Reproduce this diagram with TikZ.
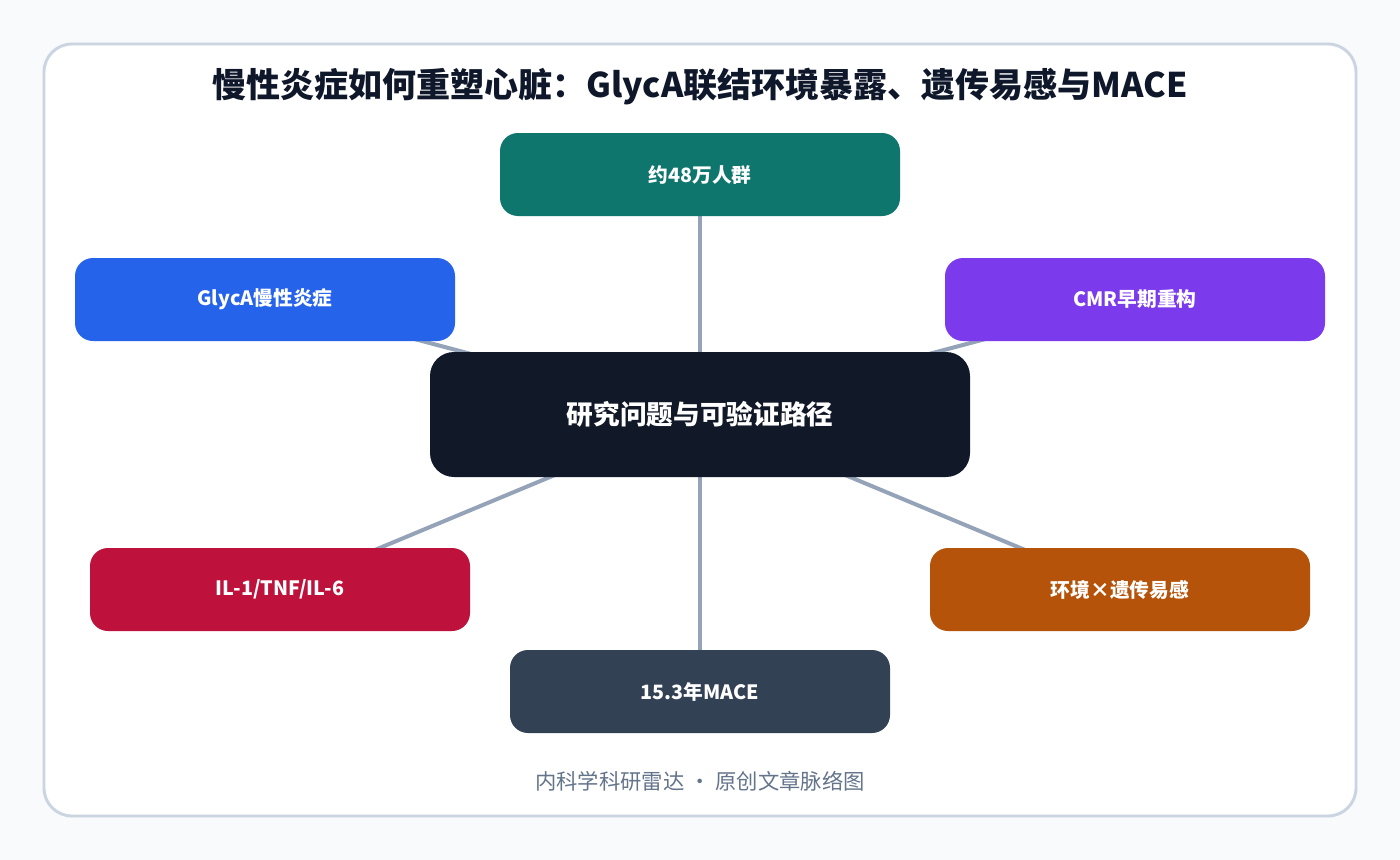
\documentclass[tikz,border=0pt]{standalone}
\usepackage{fontspec}
\setmainfont{Noto Sans CJK SC}
\definecolor{pagebg}{HTML}{F8FAFC}
\definecolor{panelline}{HTML}{CBD5E1}
\definecolor{titlec}{HTML}{0F172A}
\definecolor{edgec}{HTML}{94A3B8}
\definecolor{cteal}{HTML}{0F766E}
\definecolor{cblue}{HTML}{2563EB}
\definecolor{cpurple}{HTML}{7C3AED}
\definecolor{cdark}{HTML}{111827}
\definecolor{cred}{HTML}{BE123C}
\definecolor{corange}{HTML}{B45309}
\definecolor{cslate}{HTML}{334155}
\definecolor{footc}{HTML}{64748B}
\pgfdeclarelayer{bglayer}
\pgfdeclarelayer{edgelayer}
\pgfsetlayers{bglayer,edgelayer,main}
\tikzset{
  sat/.style={rectangle, rounded corners=13.5pt, minimum width=285pt, minimum height=62.25pt,
    inner sep=0pt, text=white, font=\bfseries\fontsize{14.8}{17}\selectfont},
  hub/.style={rectangle, rounded corners=18pt, minimum width=405pt, minimum height=93.75pt,
    inner sep=0pt, text=white, fill=cdark, font=\bfseries\fontsize{20}{22}\selectfont},
  link/.style={draw=edgec, line width=3pt},
}
\begin{document}
\begin{tikzpicture}[x=0.75pt,y=-0.75pt]
\begin{pgfonlayer}{bglayer}
\fill[pagebg] (0,0) rectangle (1400,860);
\draw[panelline, line width=2.2pt, fill=white, rounded corners=21pt] (44,44) rectangle (1356,816);
\end{pgfonlayer}
\useasboundingbox (0,0) rectangle (1400,860);

\node[text=titlec, font=\bfseries\fontsize{25.5}{28}\selectfont] (title) at (700,87) {慢性炎症如何重塑心脏：GlycA联结环境暴露、遗传易感与MACE};

\node[hub] (hub) at (700,414.5) {研究问题与可验证路径};
\node[sat, fill=cteal, minimum width=300pt] (pop) at (700,174.5) {约48万人群};
\node[sat, fill=cblue] (glyca) at (265,299.5) {GlycA慢性炎症};
\node[sat, fill=cpurple] (cmr) at (1135,299.5) {CMR早期重构};
\node[sat, fill=cred] (il) at (280,589.5) {IL-1/TNF/IL-6};
\node[sat, fill=corange] (env) at (1120,589.5) {环境×遗传易感};
\node[sat, fill=cslate] (mace) at (700,691.5) {15.3年MACE};

\begin{pgfonlayer}{edgelayer}
\draw[link] (hub.center) -- (pop.center);
\draw[link] (hub.center) -- (glyca.center);
\draw[link] (hub.center) -- (cmr.center);
\draw[link] (hub.center) -- (il.center);
\draw[link] (hub.center) -- (env.center);
\draw[link] (hub.center) -- (mace.center);
\end{pgfonlayer}

\node[text=footc, font=\fontsize{16}{19}\selectfont] (foot) at (700,781) {内科学科研雷达 · 原创文章脉络图};
\end{tikzpicture}
\end{document}
